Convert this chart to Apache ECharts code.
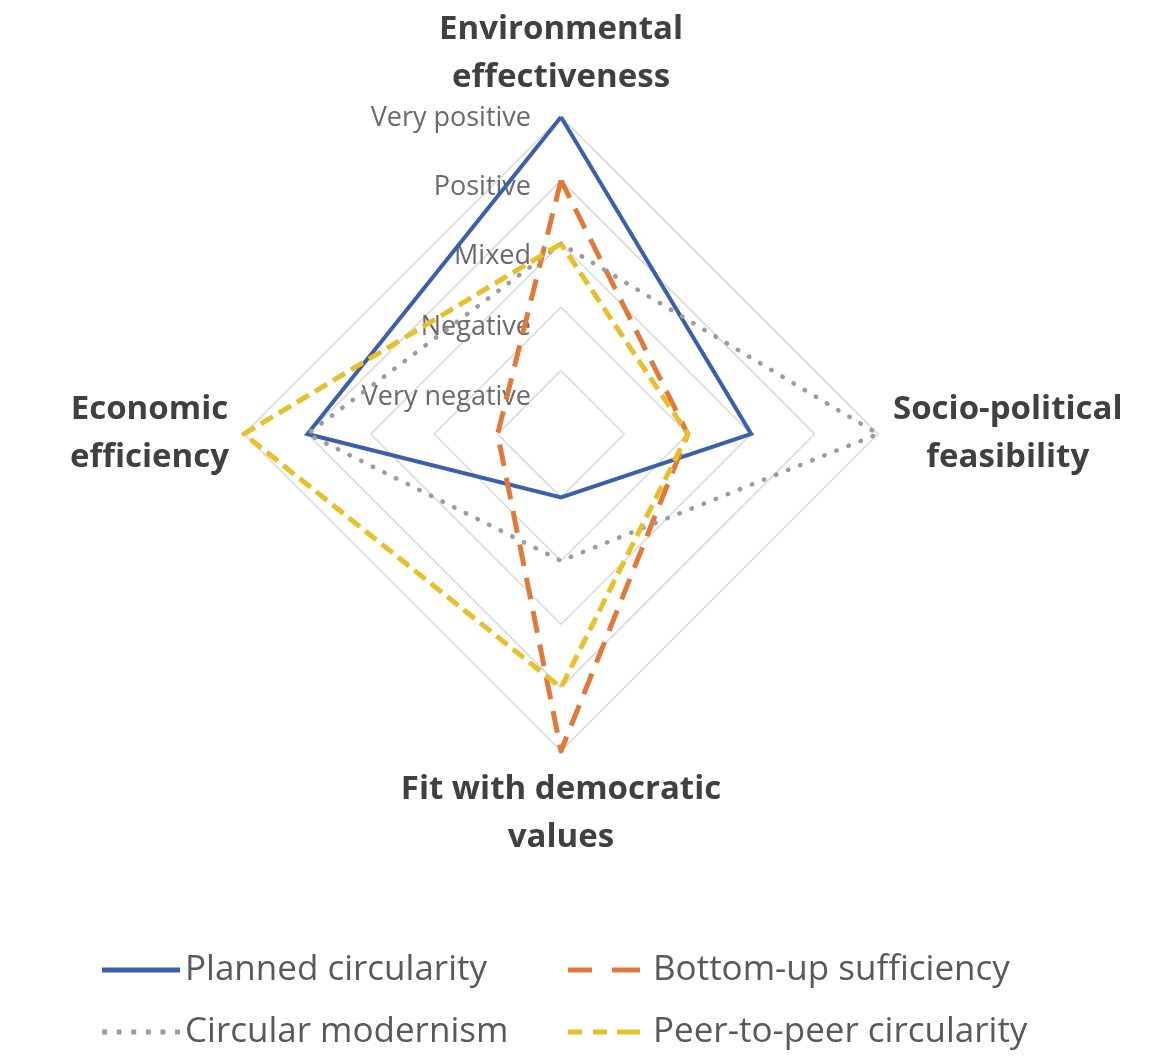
<!DOCTYPE html>
<html>
<head>
<meta charset="utf-8">
<script src="https://cdn.jsdelivr.net/npm/echarts@6/dist/echarts.min.js"></script>
<style>
  html, body { margin: 0; padding: 0; background: #ffffff; }
  #chart { width: 1149px; height: 1056px; }
</style>
</head>
<body>
<div id="chart"></div>
<script>
// Assessment dimensions (counter-clockwise from the top)
const dimensions = [
  'Environmental\neffectiveness',
  'Economic\nefficiency',
  'Fit with democratic\nvalues',
  'Socio-political\nfeasibility'
];
// Rating scale: value 1..5
const ratingLabels = ['Very negative', 'Negative', 'Mixed', 'Positive', 'Very positive'];

// Scenario ratings, same order as dimensions
const plannedCircularity    = [5, 4, 1, 3];
const bottomUpSufficiency   = [4, 1, 5, 2];
const circularModernism     = [3, 4, 2, 5];
const peerToPeerCircularity = [3, 5, 4, 2];

const FONT = '"Open Sans", "Noto Sans", sans-serif';
const COLORS = {
  planned: '#3b5fab',
  bottomUp: '#df7a3a',
  modernism: '#9c9c9c',
  peer: '#e6c12b'
};

// Legend glyphs drawn as filled dash patterns
const ICON_SOLID  = 'path://M0,0H78V5H0Z';
const ICON_DOTTED = 'path://M0,0h5v5h-5z M14.6,0h5v5h-5z M29.2,0h5v5h-5z M43.8,0h5v5h-5z M58.4,0h5v5h-5z M73,0h5v5h-5z';
const ICON_LONGDASH = 'path://M0,0h24v5h-24z M44,0h28v5h-28z';
const ICON_DASH = 'path://M0,0h14v5h-14z M25,0h14v5h-14z M49,0h23v5h-23z';

const chart = echarts.init(document.getElementById('chart'), null, { renderer: 'canvas' });

// Rating captions sit slightly below their rings, increasingly so towards the centre
const labelRich = {};
const labelShift = [54, 40, 26, 14, 2];
ratingLabels.forEach(function (t, i) {
  labelRich['r' + (i + 1)] = {
    fontFamily: FONT, fontSize: 27, color: '#6a6a6a',
    padding: [labelShift[i], 0, 0, 0]
  };
});

const option = {
  backgroundColor: '#ffffff',
  animation: false,
  legend: [
    {
      orient: 'vertical',
      left: 102, top: 950,
      padding: 0,
      itemWidth: 78, itemHeight: 5, itemGap: 22,
      textStyle: { fontFamily: FONT, fontSize: 35, color: '#595959', lineHeight: 40 },
      data: [
        { name: 'Planned circularity', icon: ICON_SOLID },
        { name: 'Circular modernism', icon: ICON_DOTTED }
      ]
    },
    {
      orient: 'vertical',
      left: 568, top: 950,
      padding: 0,
      itemWidth: 72, itemHeight: 5, itemGap: 22,
      formatter: function (n) { return '{t|' + n + '}'; },
      textStyle: {
        fontFamily: FONT, fontSize: 35, color: '#595959', lineHeight: 40,
        rich: { t: { fontFamily: FONT, fontSize: 35, color: '#595959', lineHeight: 40, padding: [0, 0, 0, 8] } }
      },
      data: [
        { name: 'Bottom-up sufficiency', icon: ICON_LONGDASH },
        { name: 'Peer-to-peer circularity', icon: ICON_DASH }
      ]
    }
  ],
  radar: {
    center: [561, 434],
    radius: 317,
    startAngle: 90,
    shape: 'polygon',
    splitNumber: 5,
    nameGap: 15,
    axisName: {
      formatter: function (name) {
        return name.split('\n').map(function (s) { return '{c|' + s + '}'; }).join('\n');
      },
      rich: {
        c: {
          align: 'center', fontFamily: FONT, fontSize: 33, fontWeight: 'bold',
          color: '#404040', lineHeight: 48
        }
      }
    },
    axisLine: { show: false },
    axisTick: { show: false },
    splitArea: { show: false },
    splitLine: { lineStyle: { color: '#d9d9d9', width: 1.5 } },
    axisLabel: {
      show: false,
      margin: 30,
      fontFamily: FONT, fontSize: 27, color: '#6a6a6a',
      formatter: function (v) {
        const i = Math.round(v) - 1;
        return (i >= 0 && i < ratingLabels.length) ? '{r' + (i + 1) + '|' + ratingLabels[i] + '}' : '';
      },
      rich: labelRich
    },
    indicator: dimensions.map(function (d, i) {
      const ind = { name: d, min: 0, max: 5 };
      if (i === 0) ind.axisLabel = { show: true };
      return ind;
    })
  },
  series: [{
    type: 'radar',
    symbol: 'none',
    data: [
      {
        name: 'Planned circularity', value: plannedCircularity,
        itemStyle: { color: COLORS.planned },
        lineStyle: { color: COLORS.planned, width: 4, type: 'solid', join: 'miter' }
      },
      {
        name: 'Bottom-up sufficiency', value: bottomUpSufficiency,
        itemStyle: { color: COLORS.bottomUp },
        lineStyle: { color: COLORS.bottomUp, width: 5, type: [22, 12] }
      },
      {
        name: 'Circular modernism', value: circularModernism,
        itemStyle: { color: COLORS.modernism },
        lineStyle: { color: COLORS.modernism, width: 4.5, type: [0.5, 12.5], cap: 'round' }
      },
      {
        name: 'Peer-to-peer circularity', value: peerToPeerCircularity,
        itemStyle: { color: COLORS.peer },
        lineStyle: { color: COLORS.peer, width: 5, type: [14, 7] }
      }
    ]
  }]
};

chart.setOption(option);
</script>
</body>
</html>
